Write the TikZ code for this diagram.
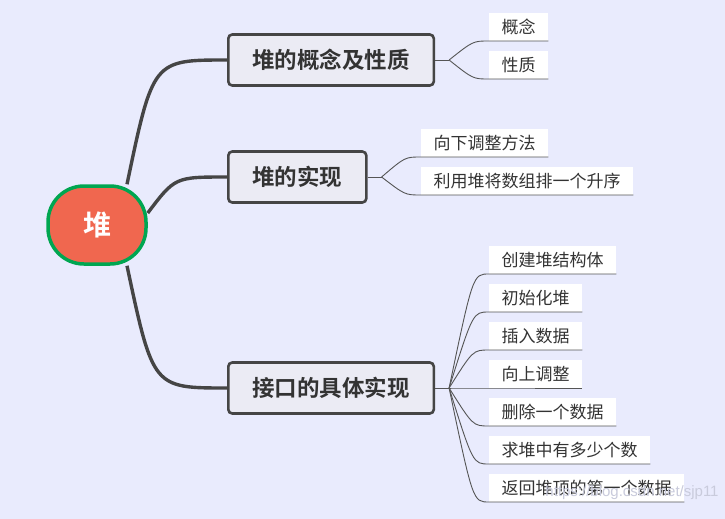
\documentclass[tikz,border=0pt]{standalone}
\usepackage{fontspec}
\setmainfont{Noto Sans CJK SC}[BoldFont={Noto Sans CJK SC Bold}]
\newfontfamily\wmfont{Liberation Sans}
\usepackage{tikz}
\usetikzlibrary{calc,backgrounds}
\definecolor{bgmain}{HTML}{E9EBFD}
\definecolor{rootfill}{HTML}{F0674F}
\definecolor{rootline}{HTML}{00A651}
\definecolor{darkline}{HTML}{454545}
\definecolor{boxfill}{HTML}{EBEBF4}
\definecolor{twigline}{HTML}{555555}
\definecolor{wmgray}{HTML}{C9CBDC}
\tikzset{rootnode/.style={draw=rootline,line width=3.5pt,fill=rootfill,rounded corners=36pt,
  minimum width=98pt,minimum height=78pt,inner sep=0pt,text=white,font=\fontsize{28}{30}\selectfont\bfseries},
topic/.style={draw=darkline,line width=2.6pt,fill=boxfill,rounded corners=4pt,anchor=west,
  minimum height=51pt,inner xsep=24pt,inner ysep=0pt,text=black!80,font=\fontsize{22.5}{24}\selectfont\bfseries},
leaf/.style={fill=white,anchor=south west,minimum height=28pt,inner xsep=12.5pt,inner ysep=0pt,
  text=black!80,font=\fontsize{17}{18}\selectfont},
branch/.style={darkline,line width=3.4pt},
twig/.style={twigline,line width=0.9pt},
wm/.style={text=wmgray,font=\wmfont\fontsize{15}{16}\selectfont}}

\begin{document}
\begin{tikzpicture}[x=1pt,y=-1pt]
\useasboundingbox (0,0) rectangle (725,519);
\begin{scope}[on background layer]
\fill[bgmain] (0,0) rectangle (725,519);
\end{scope}
\node[rootnode] (root) at (97,225) {堆};
\node[topic] (t1) at (227,60) {堆的概念及性质};
\node[topic] (t2) at (227,177) {堆的实现};
\node[topic] (t3) at (227,388) {接口的具体实现};
\node[leaf] (a1) at (489,41) {概念};
\node[leaf] (a2) at (489,79) {性质};
\node[leaf] (b1) at (421,157) {向下调整方法};
\node[leaf] (b2) at (421,195) {利用堆将数组排一个升序};
\node[leaf] (c1) at (489,274) {创建堆结构体};
\node[leaf] (c2) at (489,312) {初始化堆};
\node[leaf] (c3) at (489,350) {插入数据};
\node[leaf] (c4) at (489,388) {向上调整};
\node[leaf] (c5) at (489,426) {删除一个数据};
\node[leaf] (c6) at (489,464) {求堆中有多少个数};
\node[leaf] (c7) at (489,502) {返回堆顶的第一个数据};
\coordinate (s1) at ([xshift=14pt]t1.east);
\coordinate (s2) at ([xshift=14pt]t2.east);
\coordinate (s3) at ([xshift=14pt]t3.east);
\begin{scope}[on background layer]
\draw[branch] ([xshift=30pt]root.north) .. controls ([xshift=-74pt]t1.west) .. (t1.west);
\draw[branch] ([yshift=12pt]root.east) .. controls ([xshift=-52pt]t2.west) .. (t2.west);
\draw[branch] ([xshift=30pt]root.south) .. controls ([xshift=-74pt]t3.west) .. (t3.west);
\end{scope}
\draw[twig] (t1.east) -- (s1);
\draw[twig] (t2.east) -- (s2);
\draw[twig] (t3.east) -- (s3);
\foreach \c in {a1,a2}
  \draw[twig] (s1) .. controls ($(\c.south west)+(-16,0)$) .. (\c.south west) -- (\c.south east);
\foreach \c in {b1,b2}
  \draw[twig] (s2) .. controls ($(\c.south west)+(-16,0)$) .. (\c.south west) -- (\c.south east);
\foreach \c in {c1,c2,c3,c4,c5,c6,c7}
  \draw[twig] (s3) .. controls ($(\c.south west)+(-16,0)$) .. (\c.south west) -- (\c.south east);
\node[wm] (wmark) at (632,493) {https://blog.csdn.net/sjp11};
\end{tikzpicture}
\end{document}
